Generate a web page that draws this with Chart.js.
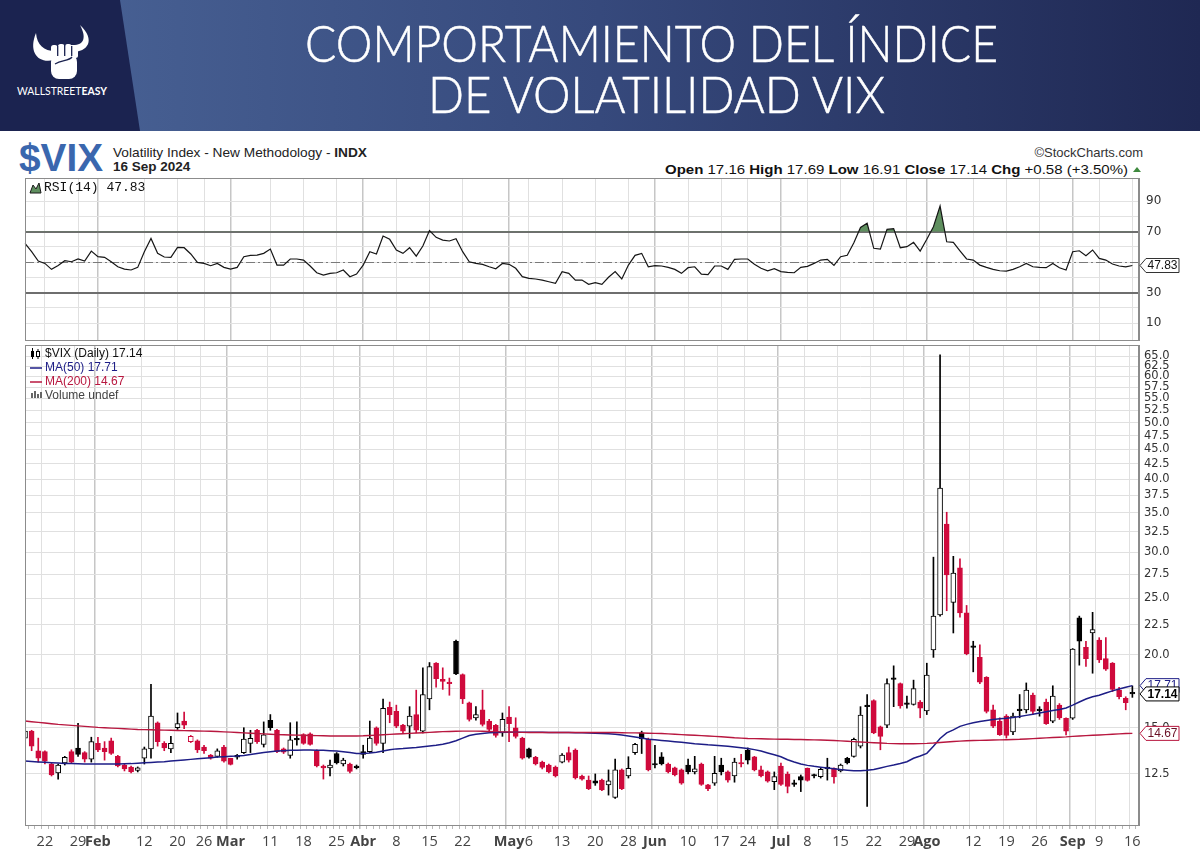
<!DOCTYPE html>
<html lang="es"><head><meta charset="utf-8"><title>VIX</title>
<script src="https://cdn.jsdelivr.net/npm/chart.js@4.4.1/dist/chart.umd.min.js"></script>
<style>
html,body{margin:0;padding:0;background:#fff;}
body{width:1200px;height:859px;position:relative;overflow:hidden;font-family:"Liberation Sans",Arial,sans-serif;}
svg{position:absolute;left:0;}
.cw{position:absolute;left:0;width:1200px;}
canvas{display:block;}
</style></head><body>
<svg width="1200" height="131" style="top:0">
 <defs><linearGradient id="bg" x1="0" y1="0" x2="1" y2="0">
  <stop offset="0" stop-color="#4a6497"/><stop offset="0.5" stop-color="#36497c"/><stop offset="1" stop-color="#1f2853"/></linearGradient></defs>
 <rect x="0" y="0" width="1200" height="131" fill="url(#bg)"/>
 <polygon points="0,0 120,0 140,131 0,131" fill="#1b2350"/>
 <g fill="#fff">
  <path d="M54,60 C38,64 28,52 36,33 C37,45 44,51 55,51 Z"/>
  <path d="M72,52 C88,52 96,40 80,25 C87,38 84,46 71,45 Z"/>
  <rect x="51" y="54" width="26" height="25" rx="8"/>
  <rect x="51" y="45" width="6.5" height="13" rx="2.5"/>
  <rect x="58" y="44" width="6.5" height="13" rx="2.5"/>
  <rect x="65" y="44" width="6.5" height="13" rx="2.5"/>
  <rect x="72" y="45" width="6" height="13" rx="2.5"/>
 </g>
 <g stroke="#1b2350" stroke-width="1.3" fill="none">
  <path d="M57.7,46 V56 M64.7,45 V56 M71.7,46 V56"/>
  <path d="M55,64 C62,60 69,61 72,57"/>
 </g>
 <text x="17" y="95" textLength="90" lengthAdjust="spacingAndGlyphs" font-family="Lato, 'Open Sans', sans-serif" font-size="11.5" fill="#fff">WALLSTREET<tspan font-weight="bold">EASY</tspan></text>
 <text x="305" y="62" textLength="693" lengthAdjust="spacingAndGlyphs" font-family="Lato, 'Open Sans', sans-serif" font-weight="300" font-size="51" fill="#fff" stroke="#fff" stroke-width="0.5">COMPORTAMIENTO DEL ÍNDICE</text>
 <text x="428" y="113" textLength="457" lengthAdjust="spacingAndGlyphs" font-family="Lato, 'Open Sans', sans-serif" font-weight="300" font-size="51" fill="#fff" stroke="#fff" stroke-width="0.5">DE VOLATILIDAD VIX</text>
</svg>
<svg width="1200" height="47" style="top:131px" font-family="'Liberation Sans', Arial, sans-serif">
 <text x="19" y="40" textLength="84" lengthAdjust="spacingAndGlyphs" font-weight="bold" font-size="39" fill="#3a67ae">$VIX</text>
 <text x="113" y="26" font-size="13.5" fill="#222" textLength="254" lengthAdjust="spacingAndGlyphs">Volatility Index - New Methodology - <tspan font-weight="bold">INDX</tspan></text>
 <text id="dateTxt" x="113" y="40" font-size="13.5" font-weight="bold" fill="#222"></text>
 <text x="1143" y="26" text-anchor="end" font-size="13" fill="#333">©StockCharts.com</text>
 <text id="ohlcTxt" x="665" y="43" font-size="13" fill="#111" textLength="463" lengthAdjust="spacingAndGlyphs"></text>
 <polygon points="1133,41 1137,36 1141,41" fill="#3f8a3f"/>
</svg>
<div class="cw" style="top:176px;height:168px"><canvas id="rsi" width="1200" height="168"></canvas></div>
<div class="cw" style="top:343px;height:516px"><canvas id="main" width="1200" height="516"></canvas></div>
<script>
// ---------- categories (trading days) ----------
const monthNames = ['Jan','Feb','Mar','Apr','May','Jun','Jul','Aug','Sep'];
const janDays = [17,18,19,22,23,24,25,26,29,30,31];
const febDays = [1,2,5,6,7,8,9,12,13,14,15,16,20,21,22,23,26,27,28,29];
const marDays = [1,4,5,6,7,8,11,12,13,14,15,18,19,20,21,22,25,26,27,28];
const aprDays = [1,2,3,4,5,8,9,10,11,12,15,16,17,18,19,22,23,24,25,26,29,30];
const mayDays = [1,2,3,6,7,8,9,10,13,14,15,16,17,20,21,22,23,24,28,29,30,31];
const junDays = [3,4,5,6,7,10,11,12,13,14,17,18,20,21,24,25,26,27,28];
const julDays = [1,2,3,5,8,9,10,11,12,15,16,17,18,19,22,23,24,25,26,29,30,31];
const augDays = [1,2,5,6,7,8,9,12,13,14,15,16,19,20,21,22,23,26,27,28,29,30];
const sepDays = [3,4,5,6,9,10,11,12,13,16];

// ---------- x tick labels ----------
const tickDates = ['Jan 22','Jan 29','Feb 1','Feb 12','Feb 20','Feb 26','Mar 1','Mar 11','Mar 18','Mar 25','Apr 1','Apr 8','Apr 15','Apr 22','May 1','May 6','May 13','May 20','May 28','Jun 3','Jun 10','Jun 17','Jun 24','Jul 1','Jul 8','Jul 15','Jul 22','Jul 29','Aug 1','Aug 12','Aug 19','Aug 26','Sep 3','Sep 9','Sep 16'];
const tickTexts = ['22','29','Feb','12','20','26','Mar','11','18','25','Abr','8','15','22','May','6','13','20','28','Jun','10','17','24','Jul','8','15','22','29','Ago','12','19','26','Sep','9','16'];

// ---------- price series (OHLC) ----------
const opens = [
14.4,14.8,13.7,13.65,13.0,12.55,13.05,13.65,13.85,13.6,
13.25,14.1,13.85,14.25,13.4,12.95,12.85,12.68,13.3,13.8,
15.3,14.1,13.8,15.0,15.4,14.2,14.25,13.9,13.47,13.4,
13.9,13.3,13.45,13.6,14.1,14.85,14.05,15.45,14.85,13.8,
13.45,14.32,14.6,14.65,13.7,12.9,12.8,13.55,13.0,13.0,
12.9,13.65,13.65,15.0,14.1,16.25,16.0,15.16,15.1,15.8,
14.8,16.8,19.35,18.15,17.95,21.1,18.5,16.55,15.6,16.1,
15.4,15.15,14.7,15.65,15.0,14.4,13.8,13.35,13.1,12.95,
12.85,13.1,13.6,13.74,12.4,12.2,12.17,12.2,11.97,11.4,
12.7,12.4,13.6,14.7,14.35,12.97,13.38,13.0,12.8,12.7,
12.95,12.6,13.0,11.97,12.05,12.95,12.6,12.4,13.05,13.74,
13.38,12.7,12.6,12.12,12.9,12.5,12.02,12.37,12.78,12.42,
12.37,12.85,12.78,12.65,13.3,13.4,13.95,16.35,16.7,15.05,
15.16,18.2,17.85,16.5,16.45,16.6,16.03,20.4,23.4,33.5,
24.6,28.2,23.6,20.7,19.8,18.3,16.1,15.4,15.7,14.75,
16.1,16.1,17.07,16.15,16.6,15.4,16.4,15.57,15.57,23.15,
20.6,21.8,21.2,19.7,19.35,17.4,16.85,17.16];
const highs = [
15.0,14.85,14.4,13.7,13.05,13.0,13.4,13.75,15.26,13.65,
14.45,14.45,14.2,14.4,13.45,13.0,12.9,12.85,13.9,17.8,
15.35,14.2,14.5,15.9,15.95,14.55,14.3,14.0,13.5,13.8,
14.0,13.3,13.5,15.0,14.85,14.9,15.35,15.8,14.9,13.85,
15.3,15.35,14.65,14.7,13.75,12.95,13.2,13.6,13.3,13.05,
12.95,14.0,15.4,15.05,16.8,16.6,16.4,15.2,16.3,17.4,
19.0,19.4,19.4,19.0,18.25,21.2,18.55,16.6,16.3,17.4,
15.5,15.2,15.9,16.3,15.6,14.45,13.85,13.4,13.15,13.0,
12.9,13.55,13.9,13.8,12.45,12.4,12.5,12.25,12.7,13.25,
12.75,13.38,14.1,14.8,14.4,14.0,13.6,13.05,12.85,12.75,
13.25,13.4,13.05,12.0,13.4,13.3,12.65,13.3,13.5,13.85,
13.4,12.9,12.65,12.6,13.05,12.6,12.2,12.45,12.8,12.5,
12.8,13.3,12.8,13.0,13.35,14.4,16.3,17.1,16.75,15.1,
18.2,19.15,17.9,17.0,18.1,16.7,19.35,29.4,65.3,35.1,
29.5,29.2,24.3,21.1,20.8,18.35,16.4,15.6,15.8,15.9,
17.1,17.9,17.2,16.3,16.8,17.7,16.5,15.6,20.5,23.3,
21.1,23.65,21.4,21.4,19.4,17.6,16.95,17.69];
const lows = [
14.2,13.7,13.1,13.0,12.4,12.25,12.95,13.05,13.4,13.1,
13.1,13.65,13.2,13.5,12.85,12.65,12.55,12.6,13.0,13.3,
13.95,13.7,13.6,14.9,14.95,14.15,13.6,13.55,13.25,13.35,
13.1,12.95,13.25,13.55,13.6,14.1,13.9,14.85,13.6,13.55,
13.3,14.0,14.05,14.0,12.85,12.25,12.4,13.0,12.9,12.55,
12.75,13.3,13.6,14.0,13.6,15.3,15.0,14.7,14.4,14.7,
14.7,16.1,17.6,17.45,17.05,18.5,16.5,15.4,15.45,15.1,
14.8,14.45,14.5,14.2,14.4,13.25,13.3,12.95,12.75,12.55,
12.35,13.05,13.1,12.25,12.2,11.75,11.95,11.7,11.5,11.35,
11.75,12.3,13.5,13.55,12.65,12.8,12.95,12.55,12.4,12.0,
12.5,12.5,11.95,11.7,11.95,12.45,12.1,12.1,12.85,13.0,
12.65,12.35,12.1,11.75,11.95,11.6,11.9,11.66,12.15,12.3,
12.3,12.2,12.05,12.6,13.0,13.35,13.85,11.0,14.65,13.75,
15.0,16.3,16.2,16.2,16.4,15.6,15.8,19.8,23.3,23.8,
21.8,23.2,20.0,18.7,17.85,15.9,15.0,14.55,14.4,14.6,
15.6,15.9,15.8,15.7,15.2,15.3,15.5,14.58,15.5,19.2,
19.1,18.6,19.4,18.8,17.3,16.8,16.1,16.91];
const closes = [
14.8,13.95,13.3,13.15,12.45,12.95,13.35,13.1,13.5,13.25,
14.2,13.75,13.65,13.55,12.9,12.75,12.6,12.8,13.8,15.7,
14.2,13.85,14.1,15.25,15.15,14.5,13.75,13.7,13.3,13.7,
13.15,12.98,13.35,14.35,14.38,14.2,14.58,15.0,13.65,13.62,
14.3,14.3,14.1,14.05,12.9,12.8,12.95,13.05,13.2,12.62,
12.82,13.5,14.4,14.1,16.2,15.8,15.1,14.8,15.7,14.85,
17.1,19.1,18.2,18.0,17.85,18.55,16.8,15.5,15.8,15.2,
14.9,14.55,15.5,15.25,14.5,13.3,13.35,13.0,12.83,12.6,
12.4,13.47,13.2,12.3,12.25,11.8,12.05,11.74,12.17,12.7,
11.8,12.78,14.05,14.35,12.7,12.95,13.0,12.6,12.45,12.05,
12.6,12.75,12.0,11.8,12.53,12.6,12.2,13.1,13.0,13.2,
12.7,12.4,12.15,12.37,12.0,11.9,12.0,12.2,12.18,12.4,
12.73,12.75,12.35,12.95,13.05,14.33,15.77,16.3,14.7,14.5,
17.85,18.15,16.35,16.45,17.5,16.2,18.47,23.3,38.6,27.4,
27.6,23.6,20.1,20.6,17.95,16.0,15.1,14.6,14.55,15.7,
16.05,17.4,16.0,16.05,15.25,17.0,15.6,14.8,20.45,21.1,
19.7,22.1,19.6,18.9,17.45,16.95,16.56,17.14];

// ---------- moving averages ----------
const ma50 = [
13.15,13.13,13.11,13.09,13.07,13.05,13.03,13.02,13.01,13.00,
13.00,13.00,13.00,13.00,13.00,13.01,13.02,13.04,13.06,13.08,
13.10,13.12,13.15,13.18,13.21,13.24,13.27,13.30,13.33,13.36,
13.38,13.40,13.42,13.45,13.50,13.55,13.60,13.64,13.68,13.70,
13.72,13.73,13.74,13.74,13.73,13.72,13.70,13.68,13.65,13.60,
13.55,13.55,13.58,13.62,13.68,13.75,13.80,13.82,13.85,13.88,
13.92,13.96,14.00,14.06,14.14,14.25,14.40,14.55,14.62,14.66,
14.70,14.72,14.73,14.74,14.74,14.74,14.74,14.73,14.73,14.72,
14.72,14.72,14.72,14.71,14.70,14.69,14.68,14.67,14.65,14.62,
14.57,14.52,14.46,14.40,14.33,14.30,14.27,14.24,14.20,14.16,
14.12,14.08,14.05,14.02,14.00,13.97,13.94,13.90,13.86,13.82,
13.76,13.68,13.58,13.48,13.38,13.22,13.10,13.00,12.93,12.88,
12.84,12.80,12.76,12.72,12.69,12.66,12.66,12.68,12.72,12.80,
12.88,12.95,13.03,13.12,13.30,13.42,13.56,13.95,14.38,14.70,
14.87,15.08,15.20,15.30,15.38,15.44,15.50,15.54,15.57,15.62,
15.68,15.75,15.82,15.90,15.98,16.05,16.12,16.22,16.40,16.60,
16.80,16.95,17.05,17.20,17.35,17.48,17.60,17.71];
const ma200 = [
15.40,15.36,15.32,15.28,15.24,15.20,15.17,15.14,15.11,15.08,
15.05,15.02,15.00,14.98,14.96,14.94,14.92,14.90,14.89,14.88,
14.87,14.86,14.85,14.84,14.83,14.82,14.81,14.80,14.79,14.78,
14.76,14.74,14.72,14.70,14.68,14.66,14.64,14.62,14.60,14.59,
14.58,14.57,14.56,14.55,14.54,14.53,14.52,14.52,14.52,14.52,
14.52,14.53,14.55,14.57,14.59,14.61,14.63,14.65,14.67,14.69,
14.71,14.73,14.75,14.77,14.78,14.79,14.80,14.80,14.80,14.79,
14.78,14.77,14.76,14.75,14.74,14.73,14.72,14.72,14.72,14.72,
14.72,14.72,14.72,14.72,14.72,14.72,14.72,14.72,14.72,14.72,
14.71,14.70,14.70,14.69,14.68,14.67,14.66,14.64,14.62,14.60,
14.58,14.56,14.54,14.52,14.50,14.48,14.45,14.42,14.40,14.38,
14.37,14.36,14.35,14.34,14.33,14.33,14.32,14.32,14.31,14.30,
14.29,14.28,14.26,14.24,14.22,14.20,14.18,14.16,14.14,14.12,
14.10,14.09,14.08,14.08,14.08,14.09,14.10,14.12,14.15,14.18,
14.21,14.23,14.25,14.26,14.27,14.28,14.29,14.30,14.31,14.32,
14.33,14.35,14.37,14.39,14.41,14.43,14.45,14.47,14.50,14.52,
14.54,14.56,14.58,14.60,14.62,14.64,14.66,14.67];

// ---------- RSI(14) ----------
const rsi14 = [
62.3,56.9,50.8,49.2,45.3,47.9,51.0,50.3,52.1,50.8,
57.3,53.6,53.2,50.3,47.0,45.5,44.9,46.6,56.9,65.6,
55.8,53.4,53.2,59.7,59.5,55.4,49.9,49.2,47.7,49.2,
46.6,45.5,46.6,53.6,54.5,54.7,55.8,58.6,48.1,48.1,
52.1,52.1,51.4,47.5,43.1,41.6,42.7,43.1,44.9,40.5,
42.2,48.1,56.9,55.4,67.2,65.0,58.0,55.8,59.5,54.0,
60.6,70.7,66.3,64.5,63.9,65.4,56.9,50.3,49.2,48.6,
47.0,45.7,49.2,48.6,46.0,40.5,39.4,39.0,38.3,37.2,
36.1,43.8,42.7,38.3,38.3,35.5,36.6,35.5,40.1,43.8,
39.0,48.1,54.5,55.8,47.0,47.7,47.5,46.6,45.3,42.7,
46.4,47.0,42.2,41.8,47.5,47.5,45.3,51.9,52.1,52.1,
48.6,46.0,44.4,45.7,43.8,43.3,43.1,46.6,47.3,49.2,
51.4,51.9,47.9,53.6,54.5,62.8,72.8,75.5,59.1,58.6,
71.5,72.0,59.5,60.2,63.0,57.3,65.0,73.3,86.8,63.4,
63.0,57.5,52.1,51.4,48.1,46.6,45.3,44.4,44.2,45.3,
47.0,49.2,47.0,46.6,46.4,49.2,46.4,44.9,56.9,57.5,
54.3,58.0,52.5,51.4,48.8,47.5,47.0,47.83];

// ---------- axis tick values ----------
const priceTicks = [12.5,15,17.5,20,22.5,25,27.5,30,32.5,35,37.5,40,42.5,45,47.5,50,52.5,55,57.5,60,62.5,65];
const rsiTicks = [10,20,30,40,50,60,70,80,90];
const rsiLabelled = [10,30,70,90];

// ---------- build ----------
const categories = [];
[janDays,febDays,marDays,aprDays,mayDays,junDays,julDays,augDays,sepDays].forEach((arr,m)=>arr.forEach(d=>categories.push(monthNames[m]+' '+d)));
const labels = categories.concat(['']);
const tickAt = {}, monthAt = {};
tickDates.forEach((d,k)=>{ const i = categories.indexOf(d); tickAt[i] = tickTexts[k]; monthAt[i] = /^[A-Z]/.test(tickTexts[k]); });

const last = closes.length - 1;
const RED = '#cf0a3c', BLK = '#000000', NAVY = '#1d1d86', MARED = '#b8173f';
const edge = closes.map((c,i)=> (i>0 && c < closes[i-1]) ? RED : BLK);
const fillC = closes.map((c,i)=> c > opens[i] ? '#ffffff' : edge[i]);
const bodies = opens.map((o,i)=>[Math.min(o,closes[i]), Math.max(o,closes[i])]);
const wicks = lows.map((l,i)=>[l, highs[i]]);

// header texts from data
const chg = closes[last]-closes[last-1];
document.getElementById('dateTxt').textContent = '16 Sep 2024';
document.getElementById('ohlcTxt').innerHTML =
 '<tspan font-weight="bold">Open</tspan> '+opens[last].toFixed(2)+'  <tspan font-weight="bold">High</tspan> '+highs[last].toFixed(2)+
 '  <tspan font-weight="bold">Low</tspan> '+lows[last].toFixed(2)+'  <tspan font-weight="bold">Close</tspan> '+closes[last].toFixed(2)+
 '  <tspan font-weight="bold">Chg</tspan> +'+chg.toFixed(2)+' (+'+(chg/closes[last-1]*100).toFixed(2)+'%)';

Chart.defaults.font.family = "'DejaVu Sans', 'Liberation Sans', Arial, sans-serif";

function xScale(showLabels){
 return {
  type:'category', offset:false,
  grid:{ drawTicks:showLabels, tickLength:4, tickColor:'#b8b8b8',
   color: c => tickAt[c.index]!==undefined ? (monthAt[c.index] ? '#c6c6c6' : '#e0e0e0') : 'rgba(0,0,0,0)',
   lineWidth: c => monthAt[c.index] ? 1.5 : 1 },
  border:{ display:showLabels, color:'#8c8c8c' },
  ticks:{ display:showLabels, autoSkip:false, maxRotation:0, minRotation:0, padding:4, color:'#444',
   font: c => ({ family:"'Open Sans', Lato, sans-serif", size:14.5, weight: monthAt[c.index] ? 'bold' : 'normal' }),
   callback: (v,i) => tickAt[i] || '' },
  afterFit: s => { s.height = showLabels ? 30 : 0; s.paddingLeft = 0; s.paddingRight = 0; }
 };
}

function drawTag(ctx, x, y, text, color, bold, textColor){
 ctx.beginPath();
 ctx.moveTo(x+1,y); ctx.lineTo(x+7,y-7); ctx.lineTo(x+40,y-7); ctx.lineTo(x+40,y+7); ctx.lineTo(x+7,y+7); ctx.closePath();
 ctx.fillStyle='#fff'; ctx.fill(); ctx.strokeStyle=color; ctx.lineWidth=1; ctx.stroke();
 ctx.fillStyle=textColor||color; ctx.font=(bold?'bold ':'')+'12px "Liberation Sans", Arial, sans-serif';
 ctx.textBaseline='middle'; ctx.textAlign='left'; ctx.fillText(text, x+8.5, y+0.5);
}

// ---------- RSI chart ----------
const rsiDecor = {
 id:'rsiDecor',
 beforeDatasetsDraw(chart){
  const {ctx, chartArea:a, scales:{y}} = chart;
  ctx.save();
  ctx.strokeStyle='#6e6e6e'; ctx.lineWidth=2;
  [70,30].forEach(v=>{ const py=Math.round(y.getPixelForValue(v)); ctx.beginPath(); ctx.moveTo(a.left,py); ctx.lineTo(a.right,py); ctx.stroke(); });
  ctx.lineWidth=1; ctx.setLineDash([9,3,2,3]); ctx.strokeStyle='#7a7a7a';
  const p50=Math.round(y.getPixelForValue(50))+0.5; ctx.beginPath(); ctx.moveTo(a.left,p50); ctx.lineTo(a.right,p50); ctx.stroke();
  ctx.restore();
 },
 afterDraw(chart){
  const {ctx, chartArea:a, scales:{y}} = chart;
  ctx.save();
  ctx.strokeStyle='#8c8c8c'; ctx.lineWidth=1; ctx.strokeRect(a.left+0.5, a.top+0.5, a.right-a.left-1, a.bottom-a.top);
  ctx.fillStyle='#5f8f5f'; ctx.strokeStyle='#1a1a1a';
  ctx.beginPath(); ctx.moveTo(30,a.top+15); ctx.lineTo(33,a.top+7); ctx.lineTo(36,a.top+11); ctx.lineTo(39,a.top+5); ctx.lineTo(41,a.top+15); ctx.closePath(); ctx.fill(); ctx.stroke();
  ctx.fillStyle='#111'; ctx.font='13px "Liberation Mono", "DejaVu Sans Mono", monospace'; ctx.textBaseline='middle'; ctx.textAlign='left';
  ctx.fillText('RSI(14) '+rsi14[last].toFixed(2), 44, a.top+10);
  drawTag(ctx, a.right, y.getPixelForValue(rsi14[last]), rsi14[last].toFixed(2), '#333', false, '#111');
  ctx.restore();
 }
};

new Chart(document.getElementById('rsi'), {
 type:'line',
 data:{ labels, datasets:[{ data:rsi14, borderColor:'#151515', borderWidth:1.2, pointRadius:0, tension:0,
   fill:{ target:{value:70}, above:'#5f8f5f', below:'rgba(0,0,0,0)' } }] },
 options:{ responsive:false, animation:false, events:[], devicePixelRatio:1,
  layout:{ padding:{left:25, right:16, top:2, bottom:4} },
  plugins:{ legend:{display:false}, tooltip:{enabled:false} },
  scales:{
   x: xScale(false),
   y: { type:'linear', position:'right', min:-1, max:105.2,
    afterBuildTicks: s => { s.ticks = rsiTicks.map(v=>({value:v})); },
    afterFit: s => { s.width = 45; s.paddingTop = 0; s.paddingBottom = 0; },
    grid:{ drawTicks:false, color:'#e2e2e2' },
    border:{ display:true, color:'#8c8c8c' },
    ticks:{ autoSkip:false, padding:7, color:'#333', font:{size:12},
     callback: v => rsiLabelled.includes(v) ? String(v) : '' } }
  } },
 plugins:[rsiDecor]
});

// ---------- price chart ----------
const mainDecor = {
 id:'mainDecor',
 afterDraw(chart){
  const {ctx, chartArea:a, scales:{y}} = chart;
  ctx.save();
  ctx.strokeStyle='#8c8c8c'; ctx.lineWidth=1; ctx.strokeRect(a.left+0.5, a.top+0.5, a.right-a.left-1, a.bottom-a.top);
  const ly=a.top+9;
  ctx.fillStyle='#000'; ctx.strokeStyle='#000';
  ctx.fillRect(31,ly-3,3,6); ctx.fillRect(32,ly-6,1,11); ctx.strokeRect(36.5,ly-2.5,3,5); ctx.fillRect(37.5,ly-5,1,2); ctx.fillRect(37.5,ly+3,1,2);
  ctx.font='12px "Liberation Sans", Arial, sans-serif'; ctx.textBaseline='middle'; ctx.textAlign='left';
  ctx.fillStyle='#111'; ctx.fillText('$VIX (Daily) '+closes[last].toFixed(2), 45, ly);
  ctx.lineWidth=1.5;
  ctx.strokeStyle=NAVY; ctx.beginPath(); ctx.moveTo(30,ly+14); ctx.lineTo(42,ly+14); ctx.stroke();
  ctx.fillStyle=NAVY; ctx.fillText('MA(50) '+ma50[last].toFixed(2), 45, ly+14);
  ctx.strokeStyle=MARED; ctx.beginPath(); ctx.moveTo(30,ly+28); ctx.lineTo(42,ly+28); ctx.stroke();
  ctx.fillStyle=MARED; ctx.fillText('MA(200) '+ma200[last].toFixed(2), 45, ly+28);
  ctx.fillStyle='#666'; ctx.fillRect(31,ly+39,2,5); ctx.fillRect(34,ly+37,2,7); ctx.fillRect(37,ly+40,2,4); ctx.fillRect(40,ly+38,2,6);
  ctx.fillStyle='#444'; ctx.fillText('Volume undef', 45, ly+42);
  drawTag(ctx, a.right, y.getPixelForValue(ma50[last]), ma50[last].toFixed(2), NAVY, false);
  drawTag(ctx, a.right, y.getPixelForValue(closes[last]), closes[last].toFixed(2), '#000', true);
  drawTag(ctx, a.right, y.getPixelForValue(ma200[last]), ma200[last].toFixed(2), MARED, false, '#6b1026');
  ctx.restore();
 }
};

new Chart(document.getElementById('main'), {
 type:'bar',
 data:{ labels, datasets:[
  { type:'line', data:ma200, borderColor:MARED, borderWidth:1.4, pointRadius:0, tension:0, order:0 },
  { type:'line', data:ma50, borderColor:NAVY, borderWidth:1.5, pointRadius:0, tension:0, order:1 },
  { type:'bar', data:bodies, backgroundColor:fillC, borderColor:edge, borderWidth:1, borderSkipped:false,
    barThickness:5, minBarLength:1.5, grouped:false, order:2 },
  { type:'bar', data:wicks, backgroundColor:edge, borderWidth:0, barThickness:1, grouped:false, order:3 }
 ]},
 options:{ responsive:false, animation:false, events:[], devicePixelRatio:1,
  layout:{ padding:{left:25, right:16, top:2, bottom:4} },
  plugins:{ legend:{display:false}, tooltip:{enabled:false} },
  scales:{
   x: xScale(true),
   y: { type:'logarithmic', position:'right', min:10.22, max:67.9,
    afterBuildTicks: s => { s.ticks = priceTicks.map(v=>({value:v})); },
    afterFit: s => { s.width = 45; s.paddingTop = 0; s.paddingBottom = 0; },
    grid:{ drawTicks:false, color:'#e0e0e0' },
    border:{ display:true, color:'#8c8c8c' },
    ticks:{ autoSkip:false, padding:5, color:'#333', font:{size:11.5},
     callback: v => Number(v).toFixed(1) } }
  } },
 plugins:[mainDecor]
});
</script>
</body></html>
